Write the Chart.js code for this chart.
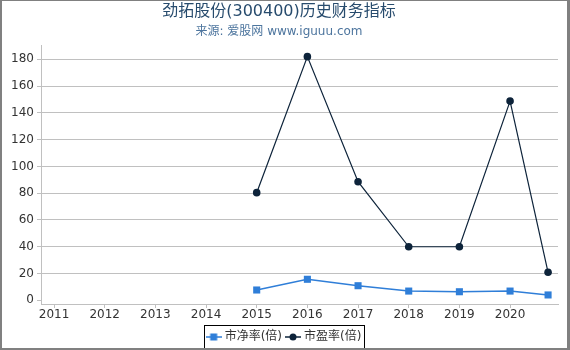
<!DOCTYPE html>
<html>
<head>
<meta charset="utf-8">
<script src="https://cdn.jsdelivr.net/npm/chart.js@4"></script>
<style>
  html, body { margin: 0; padding: 0; background: #fff; }
  #wrap { width: 570px; height: 350px; position: relative; }
</style>
</head>
<body>
<div id="wrap"><canvas id="finChart" width="570" height="350"></canvas></div>
<script>
// periods as decimal years (last one = 2020 Q3)
const periods = [2015, 2016, 2017, 2018, 2019, 2020, 2020.75];
const pbValues = [7.7, 15.7, 10.9, 6.9, 6.4, 6.9, 4.0];
const peValues = [80.4, 182.0, 88.6, 40.0, 40.0, 148.8, 20.9];
const xTicks = [2011, 2012, 2013, 2014, 2015, 2016, 2017, 2018, 2019, 2020];
const yTicks = [0, 20, 40, 60, 80, 100, 120, 140, 160, 180];

const FONT = '"DejaVu Sans", "Noto Sans CJK SC", sans-serif';
const BLUE = '#2f7ed8';
const DARK = '#0d233a';
const LEGEND_SHIFT = 6;

function toPoints(vals) {
    return periods.map((p, i) => ({ x: p, y: vals[i] }));
}

// small legend symbol: a line with the marker in the middle
function legendSymbol(color, shape) {
    const c = document.createElement('canvas');
    c.width = 16;
    c.height = 10;
    const g = c.getContext('2d');
    g.strokeStyle = color;
    g.lineWidth = 1.5;
    g.beginPath();
    g.moveTo(0, 5);
    g.lineTo(16, 5);
    g.stroke();
    g.fillStyle = color;
    if (shape === 'rect') {
        g.fillRect(4.5, 1.5, 7, 7);
    } else {
        g.beginPath();
        g.arc(8, 5, 3.5, 0, Math.PI * 2);
        g.fill();
    }
    return c;
}

const frameAndLegendBox = {
    id: 'frameAndLegendBox',
    afterUpdate(chart) {
        // nudge the legend to the centre of the whole picture
        const lg = chart.legend;
        lg.left += LEGEND_SHIFT;
        lg.right += LEGEND_SHIFT;
        (lg.legendHitBoxes || []).forEach(h => { h.left += LEGEND_SHIFT; });
    },
    beforeDraw(chart) {
        const ctx = chart.ctx;
        ctx.save();
        ctx.fillStyle = '#fff';
        ctx.fillRect(0, 0, chart.width, chart.height);
        ctx.restore();
    },
    afterDraw(chart) {
        const ctx = chart.ctx;
        ctx.save();
        // legend border
        const boxes = chart.legend.legendHitBoxes;
        if (boxes && boxes.length) {
            const first = boxes[0];
            const last = boxes[boxes.length - 1];
            const l = Math.round(first.left - 5) + 0.5;
            const r = Math.round(last.left + last.width + 3) + 0.5;
            const t = Math.round(chart.legend.top) + 0.5;
            ctx.strokeStyle = '#000';
            ctx.lineWidth = 1;
            ctx.strokeRect(l, t, r - l, 348.5 - t);
        }
        // outer frame
        ctx.fillStyle = '#808080';
        ctx.fillRect(0, 0, 2, chart.height);
        ctx.fillRect(567, 0, 3, chart.height);
        ctx.fillRect(0, 0, chart.width, 1);
        ctx.fillRect(0, 348, chart.width, 2);
        ctx.restore();
    }
};

new Chart(document.getElementById('finChart'), {
    type: 'line',
    data: {
        datasets: [
            {
                label: '市净率(倍)',
                data: toPoints(pbValues),
                borderColor: BLUE,
                backgroundColor: BLUE,
                borderWidth: 1.5,
                pointStyle: 'rect',
                pointRadius: 5,
                pointBorderWidth: 0,
                tension: 0
            },
            {
                label: '市盈率(倍)',
                data: toPoints(peValues),
                borderColor: DARK,
                backgroundColor: DARK,
                borderWidth: 1.2,
                pointStyle: 'circle',
                pointRadius: 3.8,
                pointBorderWidth: 0,
                tension: 0
            }
        ]
    },
    options: {
        responsive: false,
        animation: false,
        layout: { padding: { left: 0, right: 12, top: 0, bottom: 0 } },
        scales: {
            x: {
                type: 'linear',
                min: 2010.743,
                max: 2020.946,
                afterBuildTicks: s => { s.ticks = xTicks.map(v => ({ value: v })); },
                afterFit: s => { s.height = 21; },
                grid: { drawOnChartArea: false, drawTicks: true, tickLength: 4, color: '#c0c0c0' },
                border: { display: true, color: '#c0c0c0' },
                ticks: {
                    padding: 0,
                    maxRotation: 0,
                    autoSkip: false,
                    color: '#333',
                    font: { family: FONT, size: 12 },
                    callback: v => String(v)
                }
            },
            y: {
                min: -2.76,
                max: 190.7,
                afterBuildTicks: s => { s.ticks = yTicks.map(v => ({ value: v })); },
                afterFit: s => { s.width = 41; },
                grid: {
                    color: ctx => (ctx.tick && ctx.tick.value === 0 ? 'rgba(0,0,0,0)' : '#c0c0c0'),
                    tickColor: '#c0c0c0',
                    tickLength: 4
                },
                border: { display: true, color: '#c0c0c0' },
                ticks: {
                    padding: 3,
                    color: '#333',
                    font: { family: FONT, size: 12 },
                    callback: v => String(v)
                }
            }
        },
        plugins: {
            title: {
                display: true,
                text: '劲拓股份(300400)历史财务指标',
                color: '#274b6d',
                font: { family: FONT, size: 16, weight: 'normal' },
                padding: { top: 2, bottom: 2 }
            },
            subtitle: {
                display: true,
                text: '来源: 爱股网 www.iguuu.com',
                color: '#4d759e',
                font: { family: FONT, size: 12, weight: 'normal' },
                padding: { top: 1, bottom: 6.4 }
            },
            legend: {
                position: 'bottom',
                maxHeight: 25,
                labels: {
                    usePointStyle: true,
                    pointStyleWidth: 10,
                    padding: 6,
                    color: '#333',
                    font: { family: FONT, size: 12 },
                    generateLabels: chart => chart.data.datasets.map((ds, i) => ({
                        text: ds.label,
                        datasetIndex: i,
                        fontColor: '#333',
                        pointStyle: legendSymbol(ds.borderColor, ds.pointStyle),
                        hidden: false,
                        lineWidth: 0,
                        strokeStyle: ds.borderColor,
                        fillStyle: ds.borderColor
                    }))
                }
            },
            tooltip: { enabled: false }
        }
    },
    plugins: [frameAndLegendBox]
});
</script>
</body>
</html>
